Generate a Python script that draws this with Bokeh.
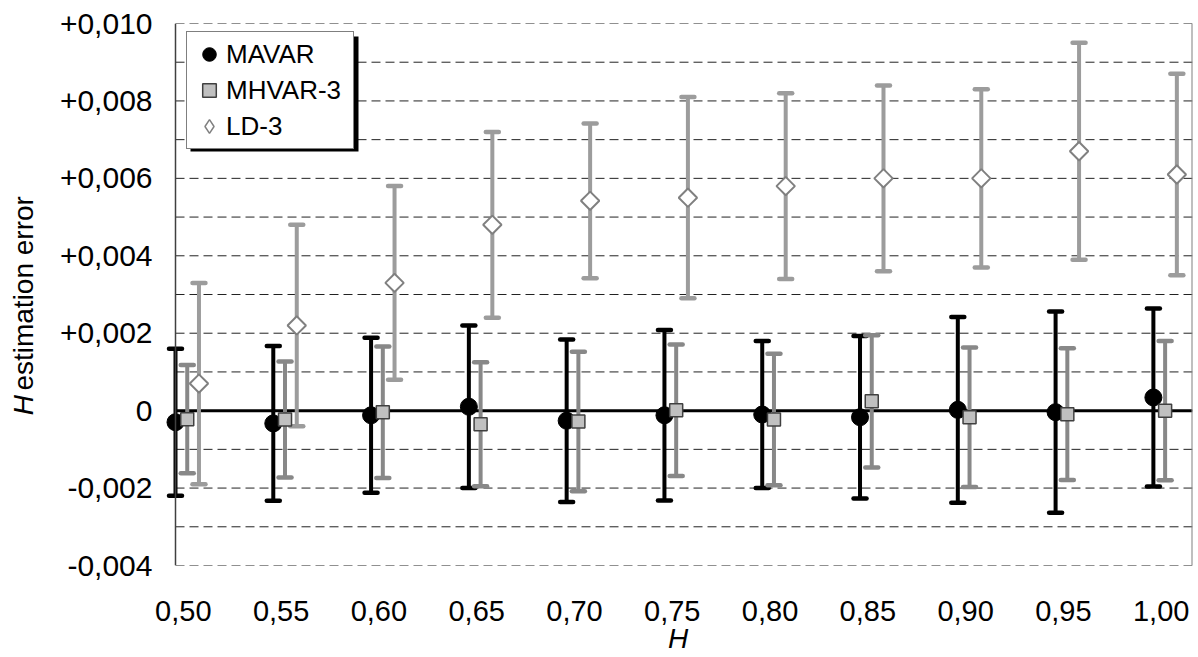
import math
from bokeh.plotting import figure
from bokeh.layouts import row
from bokeh.models import (ColumnDataSource, FixedTicker, Span, Legend, LegendItem,
                          BoxAnnotation, Range1d)
from bokeh.core.properties import value
from bokeh.embed import file_html
from bokeh.resources import INLINE

# ---------------- data ----------------
H = [0.50, 0.55, 0.60, 0.65, 0.70, 0.75, 0.80, 0.85, 0.90, 0.95, 1.00]
tick_labels = ["0,50", "0,55", "0,60", "0,65", "0,70", "0,75", "0,80", "0,85", "0,90", "0,95", "1,00"]

mavar_mean = [-0.00030, -0.00033, -0.00012, 0.00010, -0.00026, -0.00012, -0.00010, -0.00017, 0.00002, -0.00004, 0.00034]
mavar_err = [0.00190, 0.00200, 0.00200, 0.00210, 0.00210, 0.00220, 0.00190, 0.00210, 0.00240, 0.00260, 0.00230]

mhvar_mean = [-0.00022, -0.00023, -0.00004, -0.00035, -0.00028, 0.00001, -0.00023, 0.00024, -0.00017, -0.00009, 0.00000]
mhvar_err = [0.00140, 0.00150, 0.00170, 0.00160, 0.00180, 0.00170, 0.00170, 0.00171, 0.00180, 0.00170, 0.00180]

ld_mean = [0.00070, 0.00220, 0.00330, 0.00480, 0.00542, 0.00550, 0.00580, 0.00600, 0.00600, 0.00670, 0.00610]
ld_err = [0.00260, 0.00260, 0.00250, 0.00240, 0.00200, 0.00260, 0.00240, 0.00240, 0.00230, 0.00280, 0.00260]

y_ticks = [-0.004, -0.002, 0.0, 0.002, 0.004, 0.006, 0.008, 0.010]
y_tick_labels = ["-0,004", "-0,002", "0", "+0,002", "+0,004", "+0,006", "+0,008", "+0,010"]
grid_ticks = [-0.004, -0.003, -0.002, -0.001, 0.0, 0.001, 0.002, 0.003, 0.004,
              0.005, 0.006, 0.007, 0.008, 0.009, 0.010]

series_names = ["MAVAR", "MHVAR-3", "LD-3"]
x_title = "H"
y_title_var = "H"
y_title_rest = "estimation error"

# series x offsets (in H units)
off_mh = 0.006
off_ld = 0.012
label_shift = 0.004

FONT = "Liberation Sans"

# ---------------- geometry ----------------
W, HGT = 1198, 657
STRIP = 50                               # width of the left strip holding the y title
FL, FR, FT, FB = 163, 1192, 23, 565      # frame edges in canvas pixels
H_LO, H_HI = 0.50, 1.02                  # left spine / right border in H units
SPINE_PX = 175
PXU = (FR - SPINE_PX) / (H_HI - H_LO)    # pixels per H unit
X0 = H_LO - (SPINE_PX - FL) / PXU
X1 = H_HI
Y0, Y1 = -0.004, 0.010


def dx(px):
    return X0 + (px - FL) / PXU


def dy(py):
    return Y1 - (py - FT) / (FB - FT) * (Y1 - Y0)


# ---------------- left strip with the y title ----------------
ls = figure(width=STRIP, height=HGT, output_backend="svg", toolbar_location=None,
            x_range=Range1d(0, STRIP), y_range=Range1d(HGT, 0),
            x_axis_type=None, y_axis_type=None, min_border=0)
ls.outline_line_color = None
ls.xgrid.grid_line_color = None
ls.ygrid.grid_line_color = None
ls.text(x=[23], y=[475], text=[y_title_var], angle=math.pi / 2, text_align="left",
        text_baseline="middle", text_font=value(FONT), text_font_style="italic",
        text_font_size="28px", text_color="black")
ls.text(x=[23], y=[445], text=[y_title_rest], angle=math.pi / 2, text_align="left",
        text_baseline="middle", text_font=value(FONT), text_font_size="28px",
        text_color="black")

# ---------------- main plot ----------------
p = figure(width=W - STRIP, height=HGT, output_backend="svg", toolbar_location=None,
           x_range=Range1d(X0, X1), y_range=Range1d(Y0, Y1),
           min_border_left=FL - STRIP, min_border_right=W - FR, min_border_top=FT,
           min_border_bottom=HGT - FB)
p.outline_line_color = None
p.background_fill_color = "white"
p.border_fill_color = "white"
p.xgrid.grid_line_color = None
p.ygrid.grid_line_color = None

p.yaxis.ticker = FixedTicker(ticks=y_ticks)
p.yaxis.major_label_overrides = {t: l for t, l in zip(y_ticks, y_tick_labels)}
p.yaxis.major_tick_line_color = None
p.yaxis.minor_tick_line_color = None
p.yaxis.major_tick_out = 0
p.yaxis.major_tick_in = 0
p.yaxis.axis_line_color = None
p.yaxis.major_label_standoff = 11
p.yaxis.major_label_text_font = FONT
p.yaxis.major_label_text_font_size = "30px"
p.yaxis.major_label_text_color = "black"

xt = [h + label_shift for h in H]
p.xaxis.ticker = FixedTicker(ticks=xt)
p.xaxis.major_label_overrides = {t: l for t, l in zip(xt, tick_labels)}
p.xaxis.major_tick_line_color = None
p.xaxis.minor_tick_line_color = None
p.xaxis.major_tick_out = 0
p.xaxis.major_tick_in = 0
p.xaxis.axis_line_color = None
p.xaxis.major_label_standoff = 35
p.xaxis.major_label_text_font = FONT
p.xaxis.major_label_text_font_size = "29px"
p.xaxis.major_label_text_color = "black"
p.xaxis.axis_label = x_title
p.xaxis.axis_label_text_font = FONT
p.xaxis.axis_label_text_font_style = "italic"
p.xaxis.axis_label_text_font_size = "28px"
p.xaxis.axis_label_text_color = "black"
p.xaxis.axis_label_standoff = -1

# dashed horizontal gridlines starting at the left spine
p.segment(x0=[H_LO] * len(grid_ticks), x1=[H_HI] * len(grid_ticks), y0=grid_ticks, y1=grid_ticks,
          line_color="#222222", line_width=1, line_dash="9 5")
# zero line
p.segment(x0=[H_LO], x1=[H_HI], y0=[0.0], y1=[0.0], line_color="black", line_width=3)
# spines
p.add_layout(Span(location=H_LO, dimension="height", line_color="#404040", line_width=1.5))
p.add_layout(Span(location=H_HI, dimension="height", line_color="#808080", line_width=2))


def series(xs_off, mean, err, bar_color, bar_w):
    xs = [h + xs_off for h in H]
    lo = [m - e for m, e in zip(mean, err)]
    hi = [m + e for m, e in zip(mean, err)]
    src = ColumnDataSource(dict(x=xs, y=mean, lo=lo, hi=hi))
    p.segment(x0="x", y0="lo", x1="x", y1="hi", source=src, line_color=bar_color,
              line_width=bar_w)
    p.scatter(x="x", y="lo", source=src, marker="dash", size=13, line_color=bar_color,
              line_width=4.5, line_cap="round")
    p.scatter(x="x", y="hi", source=src, marker="dash", size=13, line_color=bar_color,
              line_width=4.5, line_cap="round")
    return src


s_ma = series(0.0, mavar_mean, mavar_err, "black", 4)
s_mh = series(off_mh, mhvar_mean, mhvar_err, "#888888", 4)
s_ld = series(off_ld, ld_mean, ld_err, "#9c9c9c", 4)

r_ma = p.scatter(x="x", y="y", source=s_ma, marker="circle", size=17,
                 fill_color="black", line_color="black")
r_mh = p.scatter(x="x", y="y", source=s_mh, marker="square", size=13,
                 fill_color="#c0c0c0", line_color="#404040", line_width=1.5)
# diamond glyph used for the legend entry (hidden under the plotted diamonds)
r_ld_leg = p.scatter(x="x", y="y", source=s_ld, marker="diamond", size=10,
                     fill_color="white", line_color="#808080", line_width=1.5)
r_ld = p.scatter(x="x", y="y", source=s_ld, marker="square", size=13, angle=math.pi / 4,
                 fill_color="white", line_color="#808080", line_width=2)

# legend shadow
p.add_layout(BoxAnnotation(left=dx(190), right=dx(358), top=dy(36), bottom=dy(151),
                           fill_color="black", fill_alpha=1.0, line_color=None, level="annotation"))

legend = Legend(items=[LegendItem(label=series_names[0], renderers=[r_ma]),
                       LegendItem(label=series_names[1], renderers=[r_mh]),
                       LegendItem(label=series_names[2], renderers=[r_ld_leg])],
                location=(23, 416), padding=5, spacing=2,
                glyph_width=34, glyph_height=34, label_standoff=0, label_width=122,
                label_text_font=FONT, label_text_font_size="26px",
                label_text_color="black", label_text_baseline="middle",
                border_line_color="black", border_line_width=1.5,
                background_fill_color="white", background_fill_alpha=1.0)
p.add_layout(legend)

open("out.html", "w").write(file_html(row(ls, p), INLINE))
